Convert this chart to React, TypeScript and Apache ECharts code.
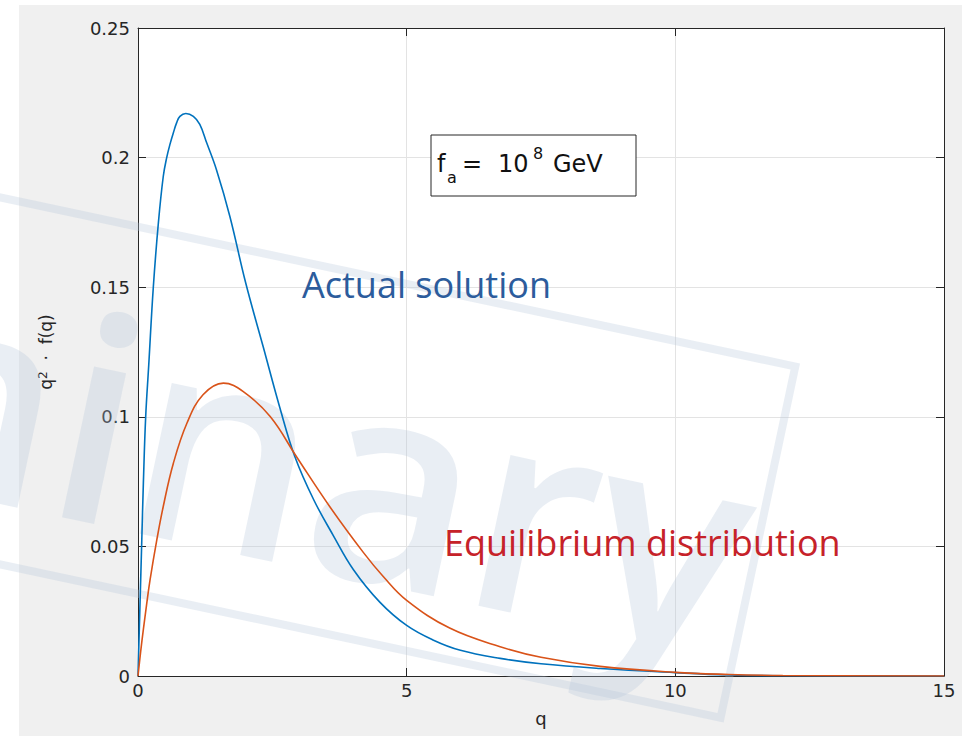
import React, { useEffect, useRef } from "react";
import * as echarts from "echarts";

// Actual solution: q and q^2 f(q)
const actualQ = [0, 0.07, 0.1, 0.143, 0.2, 0.285, 0.38, 0.47, 0.534, 0.6, 0.657, 0.72, 0.78, 0.89, 1.03, 1.15, 1.28, 1.46, 1.71, 2.0, 2.33, 2.64, 2.92, 3.27, 3.64, 4.01, 4.5, 5.0, 5.5, 6.0, 6.74, 7.5, 8.6, 10, 11, 12, 15];
const actualVal = [0, 0.052, 0.0745, 0.1, 0.12, 0.15, 0.175, 0.1927, 0.2, 0.2055, 0.2095, 0.2135, 0.2159, 0.217, 0.2159, 0.2128, 0.2056, 0.1953, 0.1773, 0.152, 0.127, 0.1035, 0.0846, 0.068, 0.054, 0.041, 0.0285, 0.0195, 0.0138, 0.0099, 0.0068, 0.0047, 0.0029, 0.0013, 0.0004, 0.0001, 0];

// Equilibrium distribution
const equilQ = [0, 0.05, 0.1, 0.16, 0.2235, 0.35, 0.47, 0.657, 0.91, 1.21, 1.59, 1.96, 2.46, 2.95, 3.58, 4.2, 4.56, 5.0, 5.8, 6.74, 7.5, 8.6, 10, 11, 12, 15];
const equilVal = [0, 0.0095, 0.018, 0.0275, 0.037, 0.0525, 0.0654, 0.082, 0.0975, 0.1085, 0.113, 0.1097, 0.1001, 0.0846, 0.065, 0.0475, 0.0385, 0.0292, 0.0185, 0.0113, 0.0072, 0.0037, 0.0014, 0.0006, 0.0002, 0];

const xMin = 0, xMax = 15, xStep = 5;
const yMin = 0, yMax = 0.25, yStep = 0.05;

const labelActual = "Actual solution";
const labelEquil = "Equilibrium distribution";
const watermark = "Preliminary";

const AXIS_COLOR = "#262626";
const GRID_COLOR = "#e3e3e3";
const BLUE = "#0072BD";
const ORANGE = "#D95319";
const WM = "#b7c7dc";

export default function App() {
  const ref = useRef<HTMLDivElement>(null);
  useEffect(() => {
    if (!ref.current) return;
    const chart = echarts.init(ref.current, null, { renderer: "svg" });
    const rot = (-12 * Math.PI) / 180;
    const tickStyle = { show: true, inside: true, length: 8, lineStyle: { color: AXIS_COLOR, width: 1 } };
    const axisLine = { show: true, onZero: false, lineStyle: { color: AXIS_COLOR, width: 1 } };
    const labelStyle = { fontFamily: "DejaVu Sans", fontSize: 18, color: AXIS_COLOR };
    chart.setOption({
      animation: false,
      backgroundColor: "#ffffff",
      grid: { left: 138, right: 18, top: 28, bottom: 60, show: true, backgroundColor: "#ffffff", borderWidth: 0 },
      xAxis: [
        {
          type: "value", min: xMin, max: xMax, interval: xStep,
          name: "q", nameLocation: "middle", nameGap: 33,
          nameTextStyle: { fontFamily: "DejaVu Sans", fontSize: 18, color: AXIS_COLOR },
          axisLine, axisTick: tickStyle,
          axisLabel: { ...labelStyle, margin: 5 },
          splitLine: { show: true, lineStyle: { color: GRID_COLOR, width: 1 } },
        },
        {
          type: "value", position: "top", min: xMin, max: xMax, interval: xStep,
          axisLine, axisTick: tickStyle, axisLabel: { show: false }, splitLine: { show: false },
        },
      ],
      yAxis: [
        {
          type: "value", min: yMin, max: yMax, interval: yStep,
          name: "q{sup|2}  ·  f(q)", nameLocation: "middle", nameGap: 84, nameRotate: 90,
          nameTextStyle: {
            fontFamily: "DejaVu Sans", fontSize: 17, color: AXIS_COLOR,
            rich: { sup: { fontFamily: "DejaVu Sans", fontSize: 12, color: AXIS_COLOR, verticalAlign: "top" } },
          },
          axisLine, axisTick: tickStyle,
          axisLabel: { ...labelStyle, margin: 8 },
          splitLine: { show: true, lineStyle: { color: GRID_COLOR, width: 1 } },
        },
        {
          type: "value", position: "right", min: yMin, max: yMax, interval: yStep,
          axisLine, axisTick: tickStyle, axisLabel: { show: false }, splitLine: { show: false },
        },
      ],
      series: [
        {
          type: "line", name: labelActual, xAxisIndex: 0, yAxisIndex: 0,
          data: actualQ.map((q, i) => [q, actualVal[i]]),
          showSymbol: false, smooth: 0.4,
          lineStyle: { color: BLUE, width: 1.6 }, itemStyle: { color: BLUE }, z: 3,
        },
        {
          type: "line", name: labelEquil, xAxisIndex: 0, yAxisIndex: 0,
          data: equilQ.map((q, i) => [q, equilVal[i]]),
          showSymbol: false, smooth: 0.4,
          lineStyle: { color: ORANGE, width: 1.6 }, itemStyle: { color: ORANGE }, z: 4,
        },
      ],
      graphic: [
        { type: "rect", z: -10, silent: true, shape: { x: 19, y: 5, width: 943, height: 731 }, style: { fill: "#f0f0f0" } },
        {
          type: "group", x: 0, y: 501, rotation: rot, z: 1, silent: true,
          children: [
            { type: "rect", z: 1, shape: { x: -1000, y: -297, width: 1750, height: 359 }, style: { fill: "none", stroke: WM, lineWidth: 8, opacity: 0.3 } },
            { type: "text", z: 1, x: 742, y: -108, style: { text: watermark, fontFamily: "Open Sans", fontWeight: 600, fontSize: 285, fill: WM, opacity: 0.3, align: "right", verticalAlign: "middle" } },
          ],
        },
        { type: "rect", z: 10, shape: { x: 431, y: 135, width: 205, height: 61 }, style: { fill: "#ffffff", stroke: AXIS_COLOR, lineWidth: 1 } },
        { type: "text", z: 11, x: 437, y: 164, style: { text: "f", fontFamily: "DejaVu Sans", fontSize: 24, fill: "#111", align: "left", verticalAlign: "middle" } },
        { type: "text", z: 11, x: 447, y: 177, style: { text: "a", fontFamily: "DejaVu Sans", fontSize: 16, fill: "#111", align: "left", verticalAlign: "middle" } },
        { type: "text", z: 11, x: 462, y: 164, style: { text: "=", fontFamily: "DejaVu Sans", fontSize: 24, fill: "#111", align: "left", verticalAlign: "middle" } },
        { type: "text", z: 11, x: 498, y: 164, style: { text: "10", fontFamily: "DejaVu Sans", fontSize: 24, fill: "#111", align: "left", verticalAlign: "middle" } },
        { type: "text", z: 11, x: 533, y: 153, style: { text: "8", fontFamily: "DejaVu Sans", fontSize: 16, fill: "#111", align: "left", verticalAlign: "middle" } },
        { type: "text", z: 11, x: 553, y: 164, style: { text: "GeV", fontFamily: "DejaVu Sans", fontSize: 24, fill: "#111", align: "left", verticalAlign: "middle" } },
        { type: "text", z: 11, x: 302, y: 284, style: { text: labelActual, fontFamily: "Open Sans", fontSize: 36, fill: "#2c5c9c", align: "left", verticalAlign: "middle" } },
        { type: "text", z: 11, x: 444, y: 542, style: { text: labelEquil, fontFamily: "Open Sans", fontSize: 36, fill: "#c62229", align: "left", verticalAlign: "middle" } },
      ],
    });
    return () => chart.dispose();
  }, []);
  return <div ref={ref} style={{ position: "absolute", left: 0, top: 0, width: 962, height: 736 }} />;
}
